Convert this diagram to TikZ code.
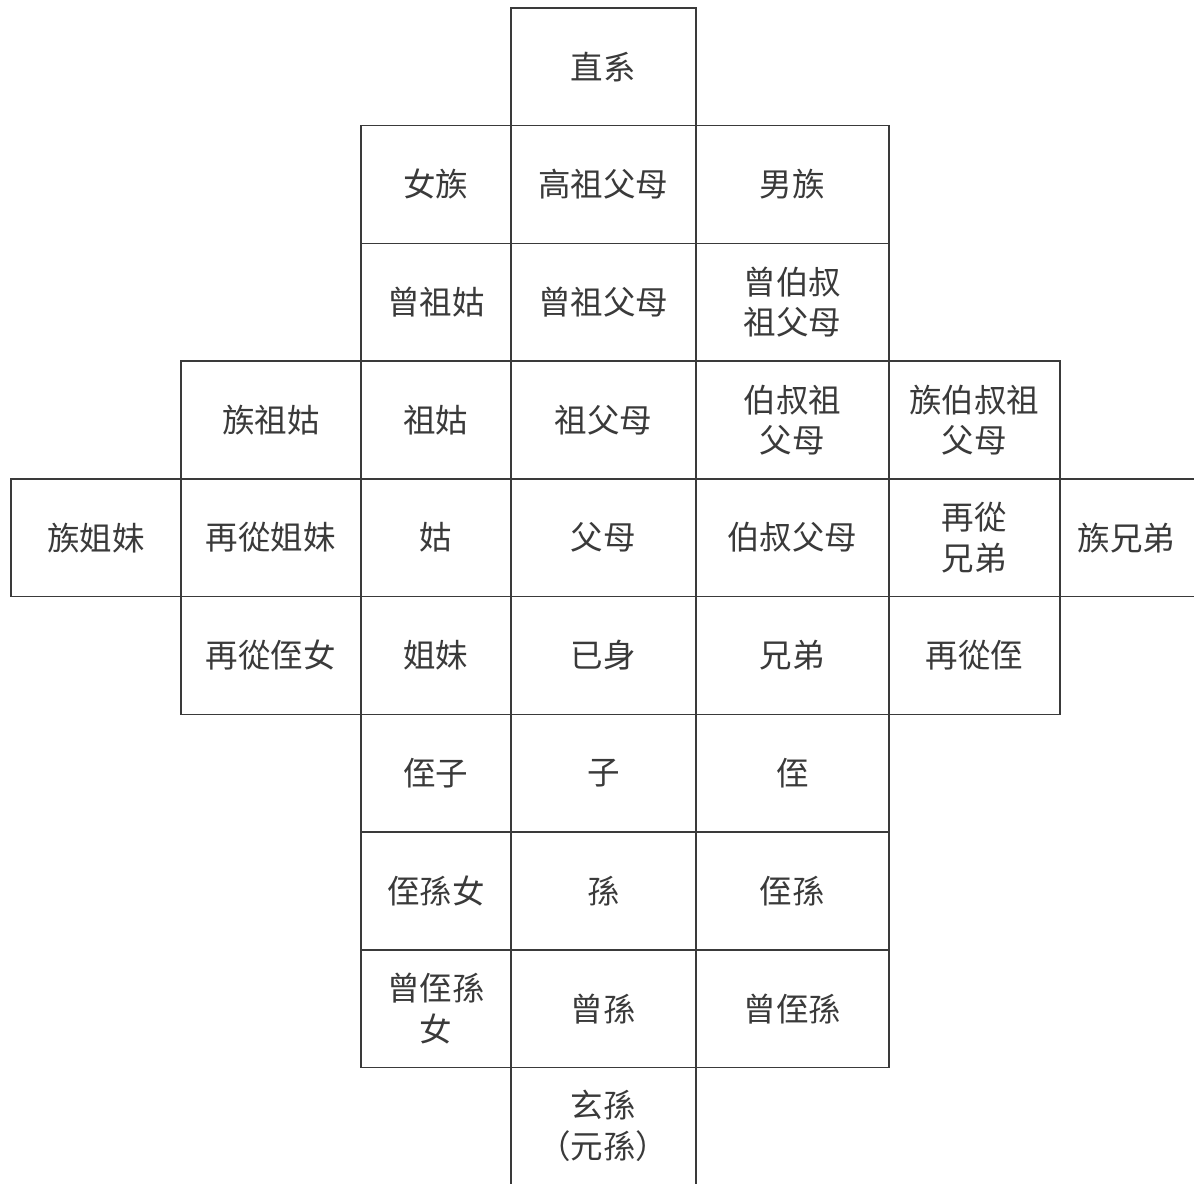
\documentclass[tikz,border=0pt]{standalone}
\usepackage{fontspec}
\setmainfont{Noto Sans CJK TC}
\usepackage{tikz}
\usetikzlibrary{positioning, calc}

\definecolor{ink}{HTML}{3A3A3A}

\tikzset{
  cell/.style={draw=ink, line width=0.9pt, shape=rectangle, minimum height=2.355cm,
    inner sep=2pt, outer sep=0pt, align=center, text=ink,
    font=\fontsize{18.5}{23}\selectfont},
  opencell/.style={cell, draw=none},
}

\begin{document}
\begin{tikzpicture}[ampersand replacement=\&]
  \useasboundingbox (0,0) rectangle (23.88,-23.68);
  \coordinate (pgbot) at (0,-23.68);
  \matrix (chart) [anchor=north west, inner sep=0pt, outer sep=0pt,
          row sep=-0.9pt, column sep=-0.9pt,
          column 1/.style={nodes={minimum width=3.4cm}},
          column 2/.style={nodes={minimum width=3.6cm}},
          column 3/.style={nodes={minimum width=3.0cm}},
          column 4/.style={nodes={minimum width=3.7cm}},
          column 5/.style={nodes={minimum width=3.86cm}},
          column 6/.style={nodes={minimum width=3.42cm}},
          column 7/.style={nodes={minimum width=2.7cm}}] at (0.2,-0.14) {
   % row 0
   \& \& \& \node[cell] (zhixi) {直系}; \& \& \& \\
   % row 1
   \& \& \node[cell] (nvzu) {女族};
   \& \node[cell] (gaozu) {高祖父母};
   \& \node[cell] (nanzu) {男族}; \& \& \\
   % row 2
   \& \& \node[cell] (zengzugu) {曾祖姑};
   \& \node[cell] (zengzu) {曾祖父母};
   \& \node[cell] (zengbszu) {曾伯叔\\祖父母}; \& \& \\
   % row 3
   \& \node[cell] (zuzugu) {族祖姑};
   \& \node[cell] (zugu) {祖姑};
   \& \node[cell] (zufumu) {祖父母};
   \& \node[cell] (bszu) {伯叔祖\\父母};
   \& \node[cell] (zubszu) {族伯叔祖\\父母}; \& \\
   % row 4
   \node[cell] (zujiemei) {族姐妹};
   \& \node[cell] (zcjiemei) {再從姐妹};
   \& \node[cell] (gu) {姑};
   \& \node[cell] (fumu) {父母};
   \& \node[cell] (bsfumu) {伯叔父母};
   \& \node[cell] (zcxiongdi) {再從\\兄弟};
   \& \node[opencell] (zuxiongdi) {族兄弟}; \\
   % row 5
   \& \node[cell] (zczhinv) {再從侄女};
   \& \node[cell] (jiemei) {姐妹};
   \& \node[cell] (jishen) {已身};
   \& \node[cell] (xiongdi) {兄弟};
   \& \node[cell] (zczhi) {再從侄}; \& \\
   % row 6
   \& \& \node[cell] (zhizi) {侄子};
   \& \node[cell] (zi) {子};
   \& \node[cell] (zhi) {侄}; \& \& \\
   % row 7
   \& \& \node[cell] (zhisunnv) {侄孫女};
   \& \node[cell] (sun) {孫};
   \& \node[cell] (zhisun) {侄孫}; \& \& \\
   % row 8
   \& \& \node[cell] (zzhisunnv) {曾侄孫\\女};
   \& \node[cell] (zengsun) {曾孫};
   \& \node[cell] (zzhisun) {曾侄孫}; \& \& \\
   % row 9
   \& \& \& \node[opencell] (xuansun) {玄孫\\（元孫）}; \& \& \& \\
  };

  % open cells at the edge of the page
  \draw[draw=ink, line width=0.9pt]
    (zuxiongdi.north west) -- (zuxiongdi.north east)
    (zuxiongdi.south west) -- (zuxiongdi.south east);
  \draw[draw=ink, line width=0.9pt]
    (xuansun.north west) -- (xuansun.north west |- pgbot)
    (xuansun.north east) -- (xuansun.north east |- pgbot);
\end{tikzpicture}
\end{document}
